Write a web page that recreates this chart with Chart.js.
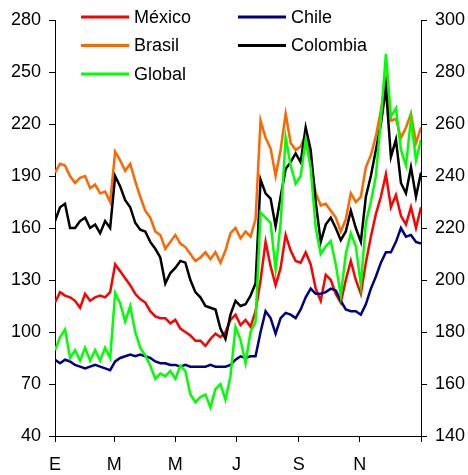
<!DOCTYPE html>
<html>
<head>
<meta charset="utf-8">
<script src="https://cdn.jsdelivr.net/npm/chart.js@4/dist/chart.umd.min.js"></script>
<style>
  html, body { margin: 0; padding: 0; background: #fff; }
  #wrap { width: 468px; height: 475px; position: relative; }
</style>
</head>
<body>
<div id="wrap"><canvas id="spreads"></canvas></div>
<script>
// dias del año (cada 5 dias)
const days = [0,5,10,15,20,25,30,35,40,45,50,55,60,65,70,75,80,85,90,95,
  100,105,110,115,120,125,130,135,140,145,150,155,160,165,170,175,180,185,190,195,
  200,205,210,215,220,225,230,235,240,245,250,255,260,265,270,275,280,285,290,295,
  300,305,310,315,320,325,330,335,340,345,350,355,360,365];

// eje izquierdo
const mexico = [117,123,121,120,118,114,122,118,120,121,120,123,139,135,131,127,122,119,117,112,
  109,108,108,105,107,102,100,98,95,95,92,96,99,97,100,107,110,104,107,103,
  112,130,152,138,127,137,156,147,141,140,146,139,125,118,133,130,122,117,130,141,
  130,122,140,155,168,178,191,172,179,167,162,172,160,172];
const chile = [84,82,84,83,81,80,79,80,81,80,79,78,83,85,86,87,86,87,86,85,
  83,82,82,81,81,80,81,80,80,80,80,81,80,80,80,81,84,86,85,86,
  86,100,112,108,99,108,111,110,108,113,120,125,122,122,123,125,124,118,113,112,
  112,110,116,125,132,140,146,146,152,160,155,156,152,151];
const brasil = [192,197,196,190,186,189,190,183,185,180,181,175,204,199,193,197,187,178,170,166,
  158,156,148,152,156,151,149,145,141,143,146,142,146,140,147,157,160,154,158,155,
  165,222,212,206,190,205,226,209,205,207,214,198,180,173,174,170,166,158,165,180,
  175,178,195,202,213,228,246,222,223,212,218,226,209,218];
const colombia = [164,172,174,160,160,164,166,160,162,157,164,160,190,184,176,172,163,159,158,152,
  148,143,128,134,137,141,140,130,123,120,115,114,113,102,96,110,118,115,116,121,
  128,188,180,177,161,178,194,198,203,198,218,205,175,152,162,166,160,153,158,170,
  160,152,178,190,205,220,241,201,211,186,180,195,178,192];
// eje derecho
const global = [173,178,181,170,173,169,174,169,173,169,174,170,195,191,184,190,180,174,171,167,
  162,164,163,165,162,167,165,156,153,155,156,151,158,160,154,163,182,177,168,180,
  184,226,224,222,204,222,255,244,237,240,254,243,220,210,213,215,206,194,210,218,
  213,198,222,230,240,262,287,263,266,250,244,262,246,254];

const monthTicks = [0, 59, 120, 181, 243, 304, 365];
const monthLabels = ['E', 'M', 'M', 'J', 'S', 'N', ''];
const leftTicks = [40, 70, 100, 130, 160, 190, 220, 250, 280];
const rightTicks = [140, 160, 180, 200, 220, 240, 260, 280, 300];

const FONT = { family: 'Liberation Sans, Arial, sans-serif', size: 18 };

function pts(arr) {
  return arr.map((v, i) => ({ x: days[i], y: v }));
}

// leyenda en dos columnas dentro del grafico
const legendSlots = { 'México': [0, 0], 'Chile': [1, 0], 'Brasil': [0, 1], 'Colombia': [1, 1], 'Global': [0, 2] };
const twoColLegend = {
  id: 'twoColLegend',
  afterDraw(chart) {
    const ctx = chart.ctx;
    ctx.save();
    ctx.font = FONT.size + 'px ' + FONT.family;
    ctx.textBaseline = 'middle';
    chart.data.datasets.forEach(ds => {
      const slot = legendSlots[ds.label];
      const x = 81 + slot[0] * 157;
      const y = 17 + slot[1] * 28.5;
      ctx.strokeStyle = ds.borderColor;
      ctx.lineWidth = 3;
      ctx.beginPath();
      ctx.moveTo(x, y);
      ctx.lineTo(x + 48, y);
      ctx.stroke();
      ctx.fillStyle = '#000';
      ctx.fillText(ds.label, x + 53, y + 1);
    });
    ctx.restore();
  }
};

const axisGrid = { drawOnChartArea: false, drawTicks: true, tickLength: 6, color: '#000', lineWidth: 1 };
const axisBorder = { color: '#000', width: 1 };

new Chart(document.getElementById('spreads'), {
  type: 'line',
  data: {
    datasets: [
      { label: 'México', data: pts(mexico), borderColor: '#FF0000', yAxisID: 'y', order: 4 },
      { label: 'Chile', data: pts(chile), borderColor: '#000080', yAxisID: 'y', order: 3 },
      { label: 'Brasil', data: pts(brasil), borderColor: '#FF6600', yAxisID: 'y', order: 2 },
      { label: 'Colombia', data: pts(colombia), borderColor: '#000000', yAxisID: 'y', order: 1 },
      { label: 'Global', data: pts(global), borderColor: '#00FF00', yAxisID: 'y2', order: 0 }
    ]
  },
  options: {
    responsive: true,
    maintainAspectRatio: false,
    animation: false,
    layout: { padding: { top: 20, left: 0, right: 0, bottom: 0 } },
    elements: {
      line: { borderWidth: 2.5, tension: 0, fill: false },
      point: { radius: 0 }
    },
    plugins: { legend: { display: false }, tooltip: { enabled: false } },
    scales: {
      x: {
        type: 'linear', min: 0, max: 365,
        grid: axisGrid, border: axisBorder,
        afterBuildTicks: s => { s.ticks = monthTicks.map(v => ({ value: v })); },
        afterFit: s => { s.height = 39; },
        ticks: {
          font: FONT, color: '#000', padding: 12, maxRotation: 0, autoSkip: false,
          callback: v => monthLabels[monthTicks.indexOf(v)]
        }
      },
      y: {
        position: 'left', min: 40, max: 280,
        grid: axisGrid, border: axisBorder,
        afterBuildTicks: s => { s.ticks = leftTicks.map(v => ({ value: v })); },
        afterFit: s => { s.width = 55; },
        ticks: { font: FONT, color: '#000', padding: 8 }
      },
      y2: {
        position: 'right', min: 140, max: 300,
        grid: axisGrid, border: axisBorder,
        afterBuildTicks: s => { s.ticks = rightTicks.map(v => ({ value: v })); },
        afterFit: s => { s.width = 47; },
        ticks: { font: FONT, color: '#000', padding: 8 }
      }
    }
  },
  plugins: [twoColLegend]
});
</script>
</body>
</html>
